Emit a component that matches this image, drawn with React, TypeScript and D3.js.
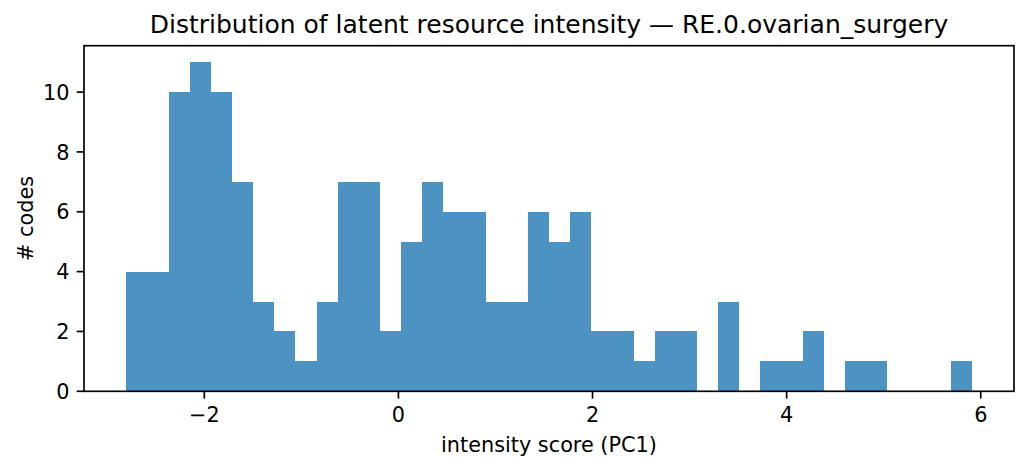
import React from "react";
import * as d3 from "d3";

const counts: number[] = [4, 4, 10, 11, 10, 7, 3, 2, 1, 3, 7, 7, 2, 5, 7, 6, 6, 3, 3, 6, 5, 6, 2, 2, 1, 2, 2, 0, 3, 0, 1, 1, 2, 0, 1, 1, 0, 0, 0, 1];
const dataMin = -2.804;
const dataMax = 5.907;
const xTicks: number[] = [-2, 0, 2, 4, 6];
const yTicks: number[] = [0, 2, 4, 6, 8, 10];
const title = "Distribution of latent resource intensity \u2014 RE.0.ovarian_surgery";
const xLabel = "intensity score (PC1)";
const yLabel = "# codes";

const W = 1029;
const H = 470;
const M = { left: 84, right: 1014, top: 45.7, bottom: 391.3 };
const FONT = "DejaVu Sans, sans-serif";
const tickFs = 20.8;
const titleFs = 25;
const tickLen = 7.3;
const pad = 7.3;
const barColor = "#4c92c3";

export default function App() {
  const span = dataMax - dataMin;
  const x = d3
    .scaleLinear()
    .domain([dataMin - 0.05 * span, dataMax + 0.05 * span])
    .range([M.left, M.right]);
  const yMax = (d3.max(counts) as number) * 1.05;
  const y = d3.scaleLinear().domain([0, yMax]).range([M.bottom, M.top]);
  const bw = span / counts.length;
  const fmt = (v: number) => (v < 0 ? "\u2212" + Math.abs(v) : String(v));

  return (
    <svg
      width={W}
      height={H}
      style={{ position: "fixed", left: 0, top: 0, background: "#fff" }}
      fontFamily={FONT}
    >
      <rect x={0} y={0} width={W} height={H} fill="#fff" />
      {counts.map((c, i) => {
        if (c === 0) return null;
        const x0 = x(dataMin + i * bw);
        const x1 = x(dataMin + (i + 1) * bw);
        return (
          <rect
            key={i}
            x={x0}
            y={y(c)}
            width={x1 - x0}
            height={y(0) - y(c)}
            fill={barColor}
            shapeRendering="crispEdges"
          />
        );
      })}
      <rect
        x={M.left}
        y={M.top}
        width={M.right - M.left}
        height={M.bottom - M.top}
        fill="none"
        stroke="#000"
        strokeWidth={1.67}
      />
      {xTicks.map((t) => (
        <g key={"x" + t}>
          <line x1={x(t)} x2={x(t)} y1={M.bottom} y2={M.bottom + tickLen} stroke="#000" strokeWidth={1.67} />
          <text x={x(t)} y={M.bottom + tickLen + pad + 16.2} fontSize={tickFs} textAnchor="middle" fill="#000">
            {fmt(t)}
          </text>
        </g>
      ))}
      {yTicks.map((t) => (
        <g key={"y" + t}>
          <line x1={M.left - tickLen} x2={M.left} y1={y(t)} y2={y(t)} stroke="#000" strokeWidth={1.67} />
          <text x={M.left - tickLen - pad} y={y(t) + 7.6} fontSize={tickFs} textAnchor="end" fill="#000">
            {fmt(t)}
          </text>
        </g>
      ))}
      <text x={(M.left + M.right) / 2} y={33.2} fontSize={titleFs} textAnchor="middle" fill="#000">
        {title}
      </text>
      <text x={(M.left + M.right) / 2} y={451.5} fontSize={tickFs} textAnchor="middle" fill="#000">
        {xLabel}
      </text>
      <text
        transform={`translate(33,${(M.top + M.bottom) / 2}) rotate(-90)`}
        fontSize={tickFs}
        textAnchor="middle"
        fill="#000"
      >
        {yLabel}
      </text>
    </svg>
  );
}
